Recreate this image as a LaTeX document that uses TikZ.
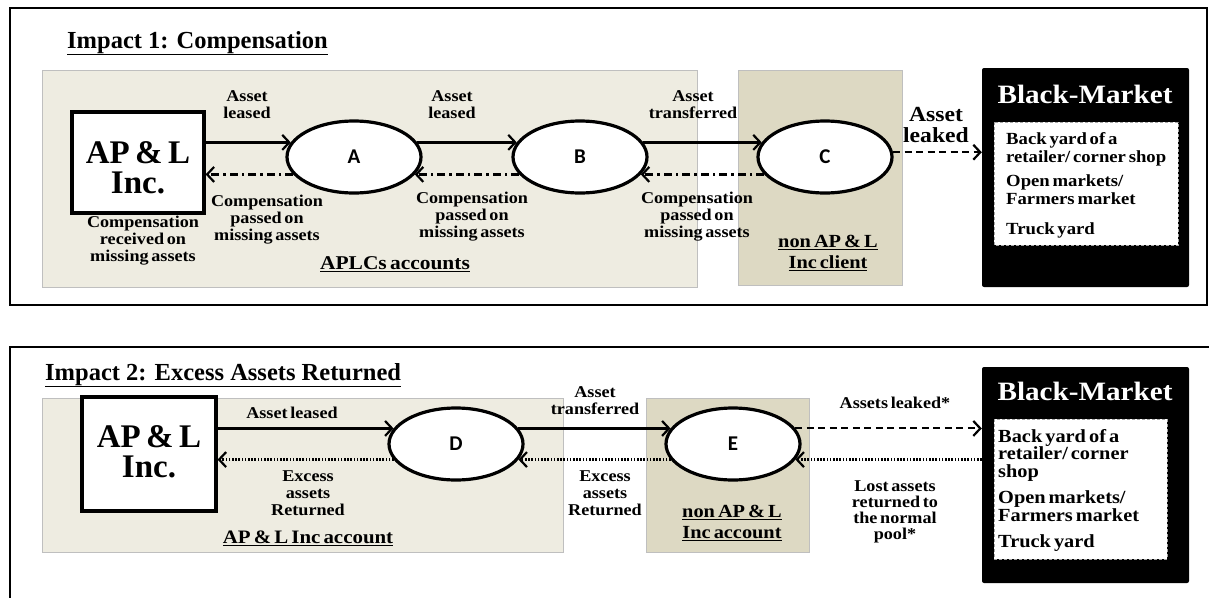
\documentclass[tikz,border=0pt]{standalone}
\usepackage{fontspec}
\setmainfont{Liberation Serif}
\newfontfamily\labf[FakeStretch=1.1,WordSpace=0.6]{Liberation Serif}
\newfontfamily\letf{Carlito}
\usetikzlibrary{arrows.meta,shapes.geometric}
\definecolor{beigeA}{HTML}{EEECE1}
\definecolor{beigeB}{HTML}{DDD9C3}
\definecolor{regedge}{HTML}{BFBFBF}
\begin{document}
\begin{tikzpicture}[x=1pt,y=-1pt,
  lab/.style={font=\labf\bfseries\fontsize{16.5}{17}\selectfont, align=center, inner sep=0},
  biglab/.style={font=\labf\bfseries\fontsize{18.5}{21}\selectfont, align=center, inner sep=0},
  bmlab/.style={font=\labf\bfseries\fontsize{17}{18}\selectfont, align=left, inner sep=0, anchor=west},
  ttl/.style={font=\bfseries\fontsize{24.5}{28}\selectfont, inner sep=0, anchor=base west},
  ell/.style={ellipse, draw, fill=white, line width=3.2pt, minimum width=134pt, minimum height=72pt, inner sep=0, font=\letf\bfseries\fontsize{21}{24}\selectfont},
  apbox/.style={rectangle, draw, fill=white, line width=3.2pt, inner sep=0},
  aptext/.style={align=center, inner sep=0, font=\bfseries\fontsize{33}{30}\selectfont},
  region/.style={draw=regedge, line width=0.8pt},
  bmbox/.style={rectangle, fill=black, rounded corners=2pt, inner sep=0},
  bminner/.style={draw=gray!70, fill=white, line width=1pt, dash pattern=on 3pt off 2pt},
  bmtitle/.style={font=\labf\bfseries\fontsize{26.5}{28}\selectfont, text=white, inner sep=0},
  arr/.style={line width=2.4pt, -{Straight Barb[length=7pt,width=15pt,line width=2.2pt]}},
  solidarr/.style={arr},
  dashdotarr/.style={arr, dash pattern=on 8pt off 4pt on 2.5pt off 4pt},
  dashedarr/.style={arr, line width=2pt, dash pattern=on 7pt off 4.5pt},
  dottedarr/.style={arr, dash pattern=on 1.6pt off 1.6pt}
]
\useasboundingbox (0,0) rectangle (1209,597);
% panel frames
\draw[line width=1.6pt] (10,8) rectangle (1207,305);
\draw[line width=1.6pt] (1212,347) -- (10,347) -- (10,602);

% ---------- Panel 1 ----------
\draw[region, fill=beigeA] (42,70) rectangle (697,287);
\draw[region, fill=beigeB] (738,70) rectangle (902,285);
\node[ttl] (t1) at (67,48) {\underline{Impact 1: Compensation}};

\node[apbox, minimum width=132pt, minimum height=101pt] (P1) at (138,162.5) {};
\node[aptext] (P1t) at (138,168) {AP\,\&\,L\\Inc.};
\node[ell] (A) at (354,157) {A};
\node[ell] (B) at (580,157) {B};
\node[ell] (C) at (825,157) {C};

\node[bmbox, minimum width=207pt, minimum height=219pt] (BM1) at (1085.5,177.5) {};
\node[bmtitle] (BM1t) at (1085,94) {Black-Market};
\draw[bminner] (994,122) rectangle (1178,245);
\node[bmlab] (g11) at (1006,149) {Back yard of a\\retailer/ corner shop};
\node[bmlab] (g12) at (1006,190) {Open markets/\\Farmers market};
\node[bmlab] (g13) at (1006,230) {Truck yard};

\draw[solidarr] (P1.east |- A.167) -- (A.167);
\draw[dashdotarr] (A.196) -- (P1.east |- A.196);
\draw[solidarr] (A.13) -- (B.167);
\draw[dashdotarr] (B.196) -- (A.344);
\draw[solidarr] (B.13) -- (C.167);
\draw[dashdotarr] (C.196) -- (B.344);
\draw[dashedarr] (C.4) -- (BM1.west |- C.4);

\node[lab] (l1) at (247,105) {Asset\\leased};
\node[lab] (l2) at (452,105) {Asset\\leased};
\node[lab] (l3) at (693,105) {Asset\\transferred};
\node[lab] (l4) at (267,220) {Compensation\\passed on\\missing assets};
\node[lab] (l5) at (472,217) {Compensation\\passed on\\missing assets};
\node[lab] (l6) at (697,217) {Compensation\\passed on\\missing assets};
\node[lab] (l7) at (143,241) {Compensation\\received on\\missing assets};
\node[font=\labf\bfseries\fontsize{19.5}{21}\selectfont, inner sep=0] (l8) at (395,264) {\underline{APLCs accounts}};
\node[biglab] (l9) at (828,253) {\underline{non AP \& L}\\\underline{Inc client}};
\node[font=\labf\bfseries\fontsize{21.5}{21}\selectfont, align=center, inner sep=0] (l10) at (936,125) {Asset\\leaked};

% ---------- Panel 2 ----------
\draw[region, fill=beigeA] (42,398) rectangle (563,552);
\draw[region, fill=beigeB] (646,398) rectangle (809,552);
\node[ttl] (t2) at (45,380) {\underline{Impact 2: Excess Assets Returned}};

\node[apbox, minimum width=134pt, minimum height=114pt] (P2) at (149,454) {};
\node[aptext] (P2t) at (149,452) {AP\,\&\,L\\Inc.};
\node[ell] (D) at (456,444) {D};
\node[ell] (E) at (733,444) {E};

\node[bmbox, minimum width=207pt, minimum height=216pt] (BM2) at (1085.5,475) {};
\node[bmtitle] (BM2t) at (1085,391) {Black-Market};
\draw[bminner] (994,419) rectangle (1167,559);
\node[bmlab, font=\labf\bfseries\fontsize{18.5}{17.5}\selectfont] (g21) at (998,455) {Back yard of a\\retailer/ corner\\shop};
\node[bmlab, font=\labf\bfseries\fontsize{18.5}{18.5}\selectfont] (g22) at (998,506) {Open markets/\\Farmers market};
\node[bmlab, font=\labf\bfseries\fontsize{18.5}{18}\selectfont] (g23) at (998,543) {Truck yard};

\draw[solidarr] (P2.east |- D.166) -- (D.166);
\draw[dottedarr] (D.194) -- (P2.east |- D.194);
\draw[solidarr] (D.14) -- (E.166);
\draw[dottedarr] (E.194) -- (D.346);
\draw[dashedarr] (E.14) -- (BM2.west |- E.14);
\draw[dottedarr] (BM2.west |- E.346) -- (E.346);

\node[lab] (m1) at (292,413) {Asset leased};
\node[lab] (m2) at (308,493) {Excess\\assets\\Returned};
\node[font=\labf\bfseries\fontsize{19}{21}\selectfont, inner sep=0] (m3) at (308,538) {\underline{AP \& L Inc account}};
\node[lab] (m4) at (595,401) {Asset\\transferred};
\node[lab] (m5) at (605,493) {Excess\\assets\\Returned};
\node[biglab] (m6) at (732,523) {\underline{non AP \& L}\\\underline{Inc account}};
\node[lab] (m7) at (895,403) {Assets leaked*};
\node[lab, font=\labf\bfseries\fontsize{16.5}{16}\selectfont] (m8) at (895,512) {Lost assets\\returned to\\the normal\\pool*};
\end{tikzpicture}
\end{document}
